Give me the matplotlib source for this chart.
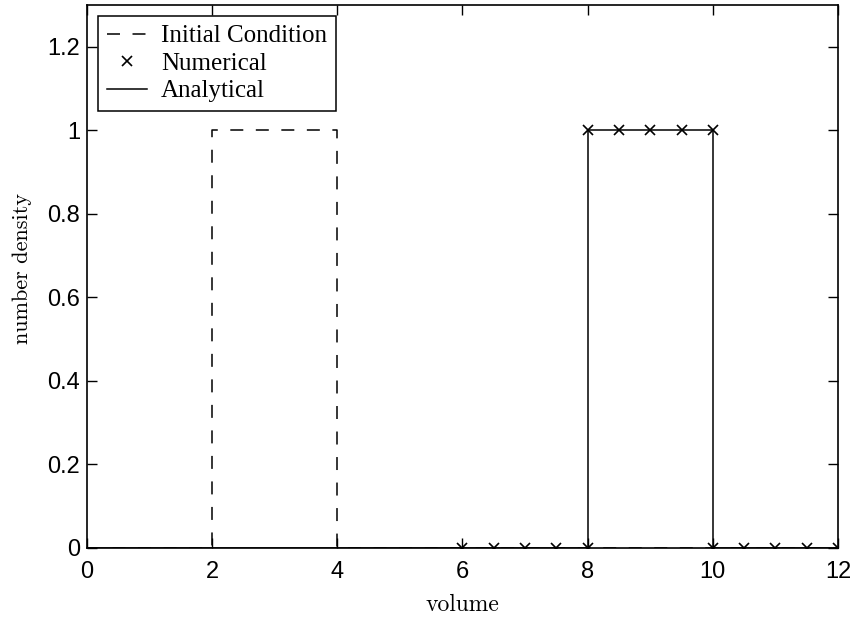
import numpy as np
import matplotlib.pyplot as plt

# initial square pulse and its analytical solution after translation
ic_x = [0, 2, 2, 4, 4, 12]
ic_y = [0, 0, 1, 1, 0, 0]
an_x = [0, 8, 8, 10, 10, 12]
an_y = [0, 0, 1, 1, 0, 0]

# numerical solution on the grid
num_x = [6, 6.5, 7, 7.5, 8, 8, 8.5, 9, 9.5, 10, 10, 10.5, 11, 11.5, 12]
num_y = [0, 0, 0, 0, 0, 1, 1, 1, 1, 1, 0, 0, 0, 0, 0]

fig = plt.figure(figsize=(8.53, 6.19), dpi=100)
ax = fig.add_axes([87 / 853, 71 / 619, 751 / 853, 543 / 619])

lw = 1.1
ax.plot(ic_x, ic_y, color='black', linestyle=(0, (8.5, 8.2)), linewidth=lw,
        label='Initial Condition')
ax.plot(num_x, num_y, linestyle='none', marker='x', color='black',
        markersize=7, markeredgewidth=1.2, label='Numerical')
ax.plot(an_x, an_y, color='black', linewidth=lw, label='Analytical')

ax.set_xlim(0, 12)
ax.set_ylim(0, 1.3)
ax.set_xticks(np.arange(0, 13, 2))
ax.set_yticks(np.arange(0, 1.3, 0.2))
ax.set_yticklabels(['0', '0.2', '0.4', '0.6', '0.8', '1', '1.2'])
ax.tick_params(direction='in', top=True, right=True, length=7, width=1.0,
               labelsize=17)
ax.tick_params(axis='x', pad=9)
ax.tick_params(axis='y', pad=5)
for lab in ax.get_xticklabels() + ax.get_yticklabels():
    lab.set_family('Liberation Sans')
for s in ax.spines.values():
    s.set_linewidth(1.2)

ax.set_xlabel('volume', family='cmr10', fontsize=17, labelpad=8)
ax.set_ylabel('number density', family='cmr10', fontsize=16, labelpad=11)
ax.yaxis.label.set_y(0.515)

leg = ax.legend(loc='upper left', prop={'family': 'Liberation Serif', 'size': 18},
                fancybox=False, edgecolor='black', framealpha=1,
                borderpad=0.35, labelspacing=0.2, handlelength=1.6,
                handletextpad=0.56, borderaxespad=0.44)
leg.get_frame().set_linewidth(1.1)

fig.savefig('out.png', dpi=100)
